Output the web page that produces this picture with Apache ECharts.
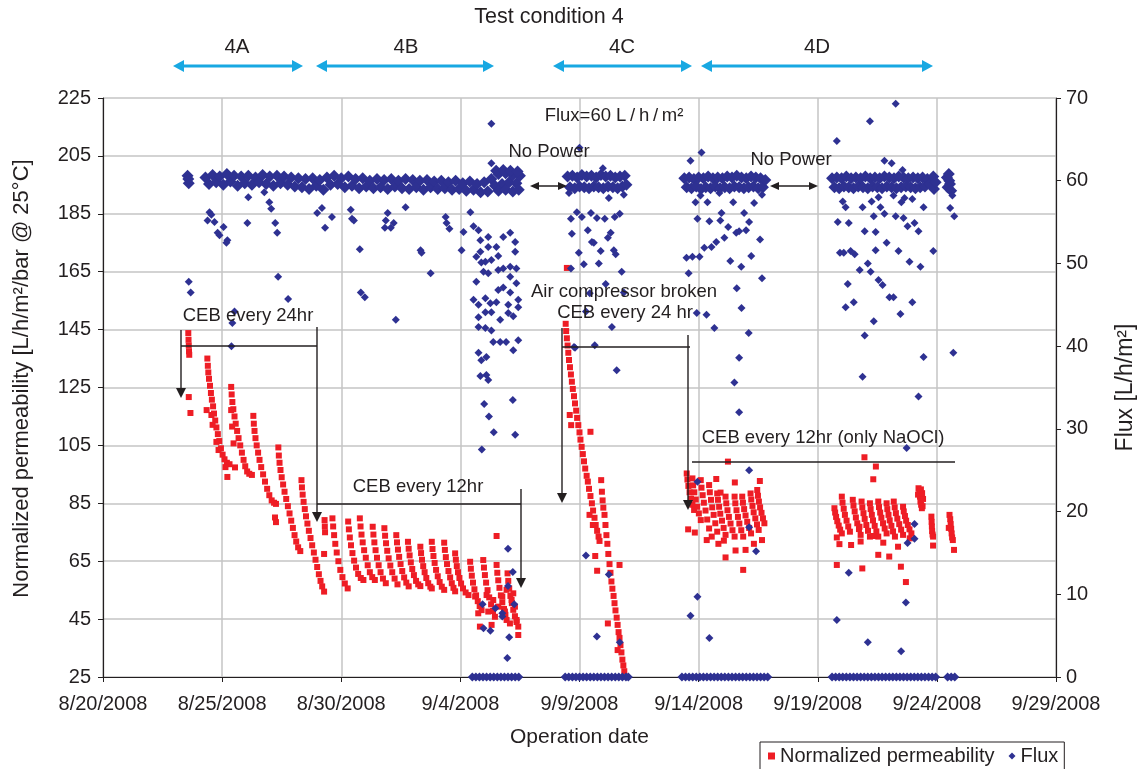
<!DOCTYPE html>
<html><head><meta charset="utf-8">
<script src="https://cdn.jsdelivr.net/npm/echarts@6/dist/echarts.min.js"></script>
<style>html,body{margin:0;padding:0;background:#fff}#c{width:1145px;height:769px}</style>
</head><body><div id="c"></div>
<script>
// x values = days since 8/20/2008
const tickDates = ['8/20/2008','8/25/2008','8/30/2008','9/4/2008','9/9/2008','9/14/2008','9/19/2008','9/24/2008','9/29/2008'];
const PERM_MIN = 25, PERM_MAX = 225, PERM_STEP = 20;
const FLUX_MIN = 0, FLUX_MAX = 70, FLUX_STEP = 10;

// Normalized permeability [day, L/h/m2/bar]
const perm4A = [
[3.58,143.8],[3.59,141.5],[3.60,139.5],[3.61,137.5],[3.62,136.3],[3.60,121.7],[3.67,116.2],
[4.38,135.0],[4.40,132.5],[4.42,130.2],[4.45,128.0],[4.49,125.6],[4.53,123.1],[4.57,120.8],[4.62,118.5],[4.66,116.0],[4.71,113.6],[4.76,111.2],[4.82,108.9],[4.88,106.5],[4.95,104.0],[5.02,101.8],[5.10,100.2],[5.20,99.0],[5.31,98.5],
[4.35,117.2],[4.55,115.5],[4.60,112.1],[4.76,106.2],[4.85,103.4],[5.14,97.5],[5.22,94.1],
[5.38,125.2],[5.40,122.6],[5.43,120.0],[5.47,117.5],[5.52,115.0],[5.57,112.5],[5.63,110.0],[5.69,107.5],[5.76,105.0],[5.83,102.5],[5.90,100.0],[5.97,97.8],[6.05,96.0],[6.14,95.2],[6.25,94.8],
[5.38,117.2],[5.42,111.5],[5.48,105.7],[5.54,97.4],
[6.31,115.2],[6.33,112.5],[6.36,110.0],[6.40,107.5],[6.45,105.0],[6.51,102.5],[6.57,100.0],[6.64,97.5],[6.72,95.0],[6.80,92.5],[6.89,90.0],[6.98,87.8],[7.08,86.0],[7.18,85.2],[7.26,84.8],
[7.22,80.1],[7.26,78.5],
[7.36,104.3],[7.38,101.5],[7.41,99.0],[7.45,96.5],[7.50,94.0],[7.56,91.5],[7.62,89.0],[7.69,86.5],[7.76,84.0],[7.83,81.5],[7.90,79.0],[7.97,76.5],[8.04,74.0],[8.11,71.8],[8.19,69.8],[8.28,68.5],
[8.33,93.0],[8.35,90.5],[8.38,88.0],[8.42,85.5],[8.47,83.0],[8.52,80.5],[8.58,78.0],[8.64,75.5],[8.71,73.0],[8.78,70.5],[8.85,68.0],[8.92,65.5],[8.99,63.0],[9.06,60.5],[9.13,58.2],[9.20,56.3],[9.28,54.5]
];
const perm4B = [
[9.30,79.2],[9.31,77.0],[9.32,75.0],[9.28,67.5],
[9.63,79.8],[9.66,77.0],[9.70,74.0],[9.75,71.0],[9.81,68.0],[9.88,65.0],[9.96,62.0],[10.05,59.5],[10.15,57.3],[10.27,55.6],
[10.29,78.7],[10.32,76.0],[10.36,73.2],[10.41,70.5],[10.47,67.8],[10.54,65.2],[10.62,62.8],[10.71,60.6],[10.82,59.2],[10.93,58.5],
[10.78,79.8],[10.81,77.0],[10.85,74.2],[10.90,71.5],[10.96,68.8],[11.03,66.2],[11.11,63.6],[11.20,61.2],[11.30,59.5],[11.41,58.5],
[11.32,76.9],[11.35,74.2],[11.39,71.5],[11.44,68.8],[11.50,66.2],[11.57,63.6],[11.65,61.2],[11.75,59.0],[11.87,57.4],
[11.81,76.4],[11.84,73.8],[11.88,71.2],[11.93,68.6],[11.99,66.0],[12.06,63.5],[12.14,61.2],[12.24,59.0],[12.36,57.0],
[12.31,74.0],[12.34,71.5],[12.38,69.0],[12.43,66.5],[12.49,64.0],[12.56,61.6],[12.64,59.4],[12.73,57.6],[12.83,56.3],
[12.80,71.7],[12.83,69.3],[12.87,67.0],[12.92,64.6],[12.98,62.3],[13.05,60.2],[13.14,58.2],[13.23,57.0],[13.32,56.4],
[13.32,70.0],[13.35,67.8],[13.39,65.5],[13.44,63.3],[13.50,61.2],[13.57,59.2],[13.65,57.4],[13.74,56.2],[13.80,55.6],
[13.80,71.7],[13.83,69.2],[13.87,66.8],[13.92,64.4],[13.98,62.0],[14.05,59.8],[14.13,57.8],[14.22,56.2],[14.32,55.1],
[14.32,71.4],[14.35,68.9],[14.39,66.4],[14.44,64.0],[14.50,61.6],[14.57,59.4],[14.64,57.4],[14.71,55.8],[14.78,54.6],
[14.78,67.7],[14.81,65.5],[14.85,63.3],[14.90,61.2],[14.96,59.2],[15.03,57.3],[15.11,55.6],[15.22,54.2],[15.34,53.3],
[15.41,64.8],[15.44,62.4],[15.48,60.0],[15.53,57.6],[15.59,55.3],[15.66,53.2],[15.73,51.2],[15.81,49.5],[15.89,48.1],
[15.96,65.4],[15.99,62.8],[16.03,60.2],[16.08,57.6],[16.14,55.0],[16.21,52.5],[16.29,50.1],[16.37,47.8],[16.45,45.8],
[16.52,63.7],[16.55,61.0],[16.59,58.4],[16.64,55.8],[16.70,53.2],[16.76,50.8],[16.83,48.5],[16.89,46.5],[16.94,44.7],
[16.98,60.8],[17.01,58.2],[17.05,55.6],[17.10,53.0],[17.16,50.5],[17.22,48.2],[17.29,46.0],[17.36,44.0],[17.43,42.4],
[16.52,73.7],[15.82,42.4],[16.31,43.0],[17.43,39.5],[15.75,47.0],[16.17,47.6],[16.59,49.3],[16.87,47.6],[17.15,51.6],[17.29,49.3],[17.36,44.7],[17.08,43.5],[16.10,53.3],[16.38,51.6],[16.76,52.8],[16.94,55.1],[17.22,53.9],[15.62,52.8]
];
const perm4C = [
[19.47,166.3],
[19.42,147.0],[19.44,144.5],[19.47,142.0],[19.50,139.5],[19.53,137.0],[19.56,134.5],[19.60,132.0],[19.64,129.5],[19.68,127.0],[19.72,124.5],[19.77,122.0],[19.81,119.5],[19.86,117.0],[19.90,114.5],[19.95,112.0],[20.00,109.5],[20.04,107.0],[20.09,104.5],[20.14,102.0],[20.19,99.5],[20.24,97.0],[20.30,94.5],[20.35,92.5],[20.40,90.0],[20.46,87.5],[20.52,85.0],[20.57,82.5],[20.63,80.0],[20.68,77.5],[20.74,75.5],[20.80,73.5],[20.84,72.0],
[20.91,93.0],[20.94,89.0],[20.97,86.0],[21.00,83.5],[21.05,81.0],[21.09,77.5],[21.13,74.0],[21.17,71.0],[21.21,67.5],[21.26,64.0],[21.30,61.0],[21.34,58.0],[21.38,55.5],[21.43,53.0],[21.47,50.5],[21.51,48.0],[21.56,45.5],[21.60,43.0],[21.64,40.5],[21.68,38.5],[21.72,36.0],[21.76,33.5],[21.80,31.0],[21.84,29.0],[21.88,27.0],
[20.46,109.7],[19.59,115.5],[19.65,112.0],[20.42,81.0],[20.56,77.5],[20.66,66.8],[20.74,61.7],[21.19,43.5],[21.68,63.7],[21.60,34.3]
];
const perm4D = [
[24.50,95.3],[24.53,93.2],[24.57,91.0],[24.62,88.8],[24.68,86.6],[24.74,84.5],[24.81,82.7],
[24.74,93.6],[24.77,91.2],[24.82,88.8],[24.88,86.3],[24.94,83.8],[25.01,81.5],[25.09,79.2],
[25.09,93.0],[25.12,90.4],[25.17,87.8],[25.22,85.2],[25.29,82.5],[25.36,79.4],[25.44,76.3],
[25.44,91.3],[25.47,88.8],[25.52,86.2],[25.57,83.6],[25.63,81.0],[25.70,78.1],[25.78,75.2],
[25.78,88.4],[25.81,86.2],[25.86,83.8],[25.91,81.4],[25.98,79.0],[26.05,76.5],[26.13,74.1],
[26.13,87.3],[26.16,85.0],[26.21,82.6],[26.27,80.3],[26.34,78.0],[26.42,75.7],[26.51,73.5],
[26.51,87.3],[26.54,85.0],[26.59,82.6],[26.65,80.3],[26.71,78.0],[26.79,75.7],[26.87,73.5],
[26.83,87.3],[26.86,85.2],[26.91,83.0],[26.97,80.8],[27.04,78.6],[27.12,76.5],[27.20,74.6],
[27.18,88.4],[27.21,86.3],[27.26,84.1],[27.31,81.9],[27.38,79.8],[27.45,77.7],[27.52,75.8],
[27.46,89.6],[27.49,87.6],[27.53,85.6],[27.58,83.6],[27.64,81.7],[27.70,79.8],[27.76,78.1],
[24.56,76.0],[24.84,74.9],[25.34,72.3],[25.55,73.5],[25.83,71.0],[26.06,72.1],[26.13,66.3],[26.55,68.7],[26.97,68.9],[27.32,71.0],[27.66,72.3],[26.87,62.0],[26.23,99.4],[25.74,93.4],[26.52,92.2],[27.57,92.7],[25.92,88.7],
[30.70,83.3],[30.73,81.8],[30.77,80.3],[30.82,78.8],[30.88,77.3],[30.94,75.9],[31.01,74.6],
[31.01,87.3],[31.04,85.2],[31.09,83.1],[31.14,81.0],[31.21,79.0],[31.28,77.0],[31.35,75.2],
[31.47,86.2],[31.50,84.2],[31.55,82.2],[31.60,80.1],[31.66,78.1],[31.73,76.1],[31.80,74.1],
[31.84,85.6],[31.87,83.6],[31.92,81.6],[31.97,79.6],[32.04,77.5],[32.11,75.5],[32.19,73.5],
[32.19,85.0],[32.22,83.0],[32.27,81.0],[32.32,79.1],[32.39,77.2],[32.46,75.3],[32.54,73.5],
[32.54,85.6],[32.57,83.7],[32.62,81.8],[32.67,80.0],[32.74,78.1],[32.81,76.3],[32.89,74.6],
[32.89,85.0],[32.92,83.0],[32.97,81.0],[33.02,79.1],[33.09,77.2],[33.16,75.3],[33.24,73.5],
[33.19,85.6],[33.23,83.6],[33.28,81.6],[33.34,79.7],[33.42,77.8],[33.50,75.9],[33.58,74.1],
[33.58,83.8],[33.61,82.2],[33.66,80.6],[33.71,79.0],[33.78,77.5],[33.85,76.0],[33.93,74.6],
[34.21,88.0],[34.23,90.2],[34.26,89.0],[34.29,87.3],[34.31,85.6],[34.34,84.5],[34.37,83.3],[34.40,84.0],[34.42,86.5],[34.38,88.5],[34.33,89.8],
[34.77,80.4],[34.78,78.6],[34.79,77.0],[34.80,75.4],[34.82,74.2],[34.84,73.5],
[35.53,81.0],[35.56,79.5],[35.58,77.8],[35.60,76.2],[35.62,74.6],[35.64,73.2],[35.67,72.3],[35.50,76.5],
[31.96,100.9],[32.44,97.7],[32.33,93.3],[30.80,73.2],[30.91,70.9],[31.40,70.6],[31.75,76.9],[31.80,71.8],[32.33,73.7],[32.54,67.2],[33.00,66.6],[32.75,71.4],[33.37,70.0],[33.86,72.9],[34.84,70.4],[35.72,68.9],[30.80,63.7],[31.87,62.5],[33.49,63.1],[33.70,57.8]
];

// Flux [day, L/h/m2] - dense operating band near 60
const fluxBand = [
[3.55,60.6],[3.60,59.7],[3.58,60.2],
[4.30,60.4],[4.45,59.6],[4.60,60.7],[4.75,59.8],[4.90,60.5],[5.05,59.5],[5.20,60.8],[5.35,59.9],[5.50,60.6],[5.65,59.4],[5.80,60.5],[5.95,59.7],[6.10,60.6],[6.25,59.5],[6.40,60.4],[6.55,59.8],[6.70,60.7],[6.85,59.6],[7.00,60.5],[7.15,59.4],[7.30,60.6],[7.45,59.7],[7.60,60.5],[7.75,59.5],[7.90,60.4],[8.05,59.3],[8.20,60.3],[8.35,59.2],[8.50,60.2],[8.65,59.0],[8.80,60.3],[8.95,59.4],[9.10,60.1],[9.25,58.9],[9.40,60.4],[9.55,59.5],[9.70,60.6],[9.85,59.6],[10.00,60.3],[10.15,59.2],[10.30,60.5],[10.45,59.4],[10.60,60.2],[10.75,59.1],[10.90,60.3],[11.05,59.3],[11.20,60.0],[11.35,59.1],[11.50,60.2],[11.65,59.2],[11.80,60.1],[11.95,59.0],[12.10,60.2],[12.25,59.3],[12.40,60.0],[12.55,59.1],[12.70,60.2],[12.85,59.0],[13.00,60.1],[13.15,59.2],[13.30,60.0],[13.45,58.9],[13.60,60.1],[13.75,59.2],[13.90,59.9],[14.05,59.0],[14.20,60.0],[14.35,59.1],[14.50,59.8],[14.65,58.9],[14.80,60.0],[14.95,59.0],[15.10,59.7],[15.25,58.8],[15.40,59.9],[15.55,58.9],[15.70,59.6],[15.85,58.6],[16.00,59.8],[16.15,58.7],[16.30,60.2],[16.45,59.4],[16.60,60.8],[16.75,59.6],[16.90,60.9],[17.05,59.8],[17.20,60.7],[17.35,59.7],[17.50,60.6],
[16.50,61.2],[16.80,61.3],[17.10,61.2],[17.40,61.1],[16.60,58.8],[16.90,58.9],[17.20,58.7],[17.45,58.9],
[19.50,60.5],[19.60,59.2],[19.70,60.6],[19.80,59.1],[19.90,60.4],[20.00,59.3],[20.10,60.7],[20.20,59.2],[20.30,60.5],[20.40,59.1],[20.50,60.6],[20.60,59.3],[20.70,60.4],[20.80,59.2],[20.90,60.7],[21.00,59.1],[21.10,60.5],[21.20,59.3],[21.30,60.6],[21.40,59.2],[21.50,60.4],[21.60,59.1],[21.70,60.5],[21.80,59.3],[21.90,60.6],[21.97,59.5],
[24.40,60.3],[24.50,59.2],[24.60,60.4],[24.70,59.1],[24.80,60.2],[24.90,59.3],[25.00,60.4],[25.10,59.0],[25.20,60.3],[25.30,59.2],[25.40,60.5],[25.50,59.1],[25.60,60.3],[25.70,59.3],[25.80,60.4],[25.90,59.1],[26.00,60.3],[26.10,59.2],[26.20,60.5],[26.30,59.1],[26.40,60.4],[26.50,59.3],[26.60,60.6],[26.70,59.2],[26.80,60.4],[26.90,59.1],[27.00,60.3],[27.10,59.2],[27.20,60.5],[27.30,59.3],[27.40,60.4],[27.50,59.1],[27.60,60.3],[27.70,59.2],[27.80,60.1],
[30.60,60.3],[30.70,59.2],[30.80,60.4],[30.90,59.1],[31.00,60.3],[31.10,59.3],[31.20,60.5],[31.30,59.2],[31.40,60.3],[31.50,59.1],[31.60,60.4],[31.70,59.3],[31.80,60.3],[31.90,59.2],[32.00,60.5],[32.10,59.1],[32.20,60.3],[32.30,59.3],[32.40,60.4],[32.50,59.2],[32.60,60.3],[32.70,59.1],[32.80,60.5],[32.90,59.3],[33.00,60.4],[33.10,59.2],[33.20,60.3],[33.30,59.1],[33.40,60.5],[33.50,59.2],[33.60,60.4],[33.70,59.3],[33.80,60.3],[33.90,59.2],[34.00,60.4],[34.10,59.1],[34.20,60.3],[34.30,59.2],[34.40,60.4],[34.50,59.3],[34.60,60.2],[34.70,59.6],[34.85,60.5],[34.88,59.0],[34.95,59.8],
[35.42,60.4],[35.45,59.2],[35.50,60.8],[35.55,59.6],[35.60,58.8],[35.52,60.0]
];
// Flux excursions below/above the band
const fluxScatter = [
[4.47,56.2],[4.55,55.9],[4.39,55.2],[4.68,55.0],[4.81,53.7],[4.89,53.4],[5.06,54.4],[5.22,52.8],[5.18,52.5],
[6.10,58.0],[6.06,54.9],[6.77,58.6],[6.98,57.4],[7.06,56.6],[7.23,54.9],[7.31,53.7],
[8.99,56.1],[9.19,56.7],[9.32,54.3],[9.61,55.6],
[3.60,47.8],[3.68,46.5],[7.35,48.4],[7.77,45.7],[5.52,44.2],[5.43,42.8],[5.39,40.0],
[10.40,56.5],[10.45,55.4],[10.53,55.2],[10.78,51.7],[10.82,46.5],[10.99,45.9],
[11.95,56.1],[11.87,55.2],[12.20,54.9],[11.83,54.3],[12.08,54.3],[12.29,43.2],[12.70,56.8],[13.33,51.6],[13.37,51.3],[13.75,48.8],
[14.38,55.6],[14.42,54.9],[14.54,54.2],[15.05,51.6],[15.13,53.8],[15.42,56.2],
[16.30,66.9],[16.30,62.1],[15.55,54.5],[15.76,54.0],[16.17,53.2],[15.84,52.8],[16.17,52.0],[16.51,52.0],[16.80,53.2],[17.09,53.7],[17.30,52.6],[17.30,51.4],[15.84,51.4],[15.67,50.8],[16.05,50.2],[16.30,50.4],[16.59,50.9],[15.88,50.1],[16.17,48.8],[15.97,49.0],[16.59,49.2],[16.80,49.4],[17.09,49.6],[17.35,49.4],[17.09,48.4],[15.67,47.8],[15.55,45.6],[15.76,45.0],[16.05,45.8],[16.26,45.2],[16.51,45.3],[16.59,46.8],[16.80,47.1],[17.09,46.5],[17.35,47.6],[17.43,45.6],[17.01,45.0],[16.05,44.1],[16.30,44.1],[16.67,43.2],[17.01,44.0],[17.22,43.6],[17.43,44.7],[15.76,43.5],[15.76,42.3],[16.05,42.2],[16.30,41.9],[16.38,40.5],[16.67,40.5],[16.92,40.5],[17.43,40.7],[17.22,39.5],[15.76,39.2],[15.88,38.3],[16.09,38.7],[15.84,36.4],[16.09,36.5],[16.17,35.9],
[16.00,33.0],[16.20,31.5],[16.40,29.6],[17.30,29.3],[17.20,33.5],[15.90,27.5],
[17.00,11.0],[15.93,8.8],[16.47,8.3],[16.76,7.7],[16.76,7.3],[17.26,8.8],[15.97,5.9],[16.26,5.6],[17.05,4.8],[16.97,2.3],[17.20,12.7],[17.00,15.5],
[20.00,64.0],[20.98,61.5],[21.23,57.9],[21.86,58.3],[19.56,58.5],[19.89,56.2],[19.64,55.4],[20.10,55.6],[20.48,56.1],[20.73,55.5],[21.06,55.4],[21.48,55.6],[21.69,56.0],[19.68,53.6],[20.35,54.0],[20.52,52.6],[20.60,52.5],[21.19,53.1],[21.31,53.7],[19.97,51.3],[20.89,51.5],[21.44,51.6],[21.52,51.1],[20.18,49.9],[20.81,50.0],[19.64,49.4],[21.77,49.0],[21.10,47.5],[20.43,46.4],[21.86,46.5],[21.36,42.3],[20.64,40.1],[19.77,39.9],[20.27,44.2],[19.81,39.8],[21.56,37.1],[20.27,14.7],[21.23,12.4],[20.73,4.9],[21.69,4.2],
[24.66,62.4],[25.12,63.4],[25.08,58.2],[24.87,57.4],[25.37,57.4],[25.87,58.5],[26.45,57.4],[27.33,57.3],[27.66,58.3],[25.96,56.1],[24.95,55.4],[25.45,55.1],[25.91,55.2],[26.91,56.1],[27.12,55.0],[26.24,54.4],[26.99,54.0],[26.58,53.7],[26.70,53.9],[27.58,52.9],[26.08,53.1],[25.74,52.6],[25.54,52.0],[25.24,51.9],[24.49,50.7],[24.74,50.8],[25.04,50.8],[27.21,50.9],[26.33,50.3],[26.79,49.6],[24.58,48.8],[27.66,48.2],
[24.92,44.0],[25.33,43.8],[25.66,42.2],[24.95,9.7],[24.66,7.4],[25.45,4.7],
[26.70,32.0],[27.12,25.0],[24.95,23.6],[27.12,18.1],[27.41,15.2],
[26.60,47.0],[26.80,44.6],[27.10,41.6],[26.70,38.6],[26.50,35.6],
[33.27,69.3],[32.19,67.2],[30.80,64.8],[32.80,62.4],[33.10,62.1],[33.56,61.3],[31.05,57.5],[31.17,56.8],[31.88,56.8],[32.26,57.5],[32.55,58.0],[32.63,56.8],[33.18,58.2],[33.51,57.4],[33.64,57.9],[33.97,57.8],[34.44,56.8],[32.35,55.7],[32.80,56.0],[33.27,55.7],[33.60,55.5],[33.77,54.5],[34.06,54.9],[34.23,53.9],[30.84,55.0],[31.30,54.9],[31.97,53.9],[32.43,53.8],[32.89,52.5],[32.43,51.6],[33.39,51.5],[34.85,51.5],[30.93,51.3],[31.09,51.3],[31.38,51.5],[31.55,51.1],[33.85,50.2],[34.31,49.6],[32.10,50.0],[31.76,49.2],[32.22,49.0],[32.55,48.0],[32.72,47.4],[31.26,47.5],[33.01,45.9],[33.18,45.9],[31.51,45.3],[31.17,44.7],[33.97,45.3],[33.47,43.9],[32.35,43.0],[31.97,41.3],[34.44,38.7],[35.69,39.2],[31.88,36.3],[34.23,33.9],[35.56,56.7],[35.73,55.7],[35.65,58.2],
[31.30,12.6],[33.73,27.7],[34.06,18.5],[33.77,16.2],[34.06,16.7],
[30.80,6.9],[32.10,4.2],[33.50,3.1],[33.70,9.0]
];
// Days where flux was zero (no power / shutdown)
const fluxZeroDays = [
15.50,15.65,15.80,15.95,16.10,16.25,16.40,16.55,16.70,16.85,17.00,17.15,17.30,17.45,
19.40,19.55,19.70,19.85,20.00,20.15,20.30,20.45,20.60,20.75,20.90,21.05,21.20,21.35,21.50,21.65,21.80,21.95,22.05,
24.30,24.45,24.60,24.75,24.90,25.05,25.20,25.35,25.50,25.65,25.80,25.95,26.10,26.25,26.40,26.55,26.70,26.85,27.00,27.15,27.30,27.45,27.60,27.75,27.90,
30.60,30.75,30.90,31.05,31.20,31.35,31.50,31.65,31.80,31.95,32.10,32.25,32.40,32.55,32.70,32.85,33.00,33.15,33.30,33.45,33.60,33.75,33.90,34.05,34.20,34.35,34.50,34.65,34.80,34.95,
35.45,35.60,35.75
];

const RED = '#EE1D25', BLUE = '#2E3192', FONT = '"Liberation Sans", Arial, sans-serif', TXT = '#231F20';
const permAll = perm4A.concat(perm4B, perm4C, perm4D);

// ---------- annotation graphics (pixel layout) ----------
const g = [];
function txt(x, y, s, size) {
  g.push({type:'text', x:x, y:y, z:100, style:{text:s, fill:TXT, font: size + 'px ' + FONT, align:'center', verticalAlign:'middle', textAlign:'center', textVerticalAlign:'middle'}});
}
function ln(x1, y1, x2, y2, color, w) {
  g.push({type:'line', z:100, shape:{x1:x1, y1:y1, x2:x2, y2:y2}, style:{stroke:color, lineWidth:w}});
}
function head(x, y, dir, len, hw, color) {
  let pts;
  if (dir === 'down') pts = [[x, y], [x - hw, y - len], [x + hw, y - len]];
  else if (dir === 'left') pts = [[x, y], [x + len, y - hw], [x + len, y + hw]];
  else pts = [[x, y], [x - len, y - hw], [x - len, y + hw]];
  g.push({type:'polygon', z:100, shape:{points:pts}, style:{fill:color}});
}
function dbl(x1, x2, y, color, w, len, hw) {
  ln(x1 + len - 1, y, x2 - len + 1, y, color, w);
  head(x1, y, 'left', len, hw, color);
  head(x2, y, 'right', len, hw, color);
}
function down(x, y1, y2, color) { ln(x, y1, x, y2 - 8, color, 1.4); head(x, y2, 'down', 10, 5, color); }

const CYAN = '#18A8E2', BLK = '#231F20';
txt(549, 17, 'Test condition 4', 21.5);
txt(237, 47, '4A', 20.5); txt(406, 47, '4B', 20.5); txt(622, 47, '4C', 20.5); txt(817, 47, '4D', 20.5);
dbl(173, 303, 66, CYAN, 3, 11, 6);
dbl(316, 494, 66, CYAN, 3, 11, 6);
dbl(553, 692, 66, CYAN, 3, 11, 6);
dbl(701, 933, 66, CYAN, 3, 11, 6);
txt(614, 116, 'Flux=60 L\u2009/\u2009h\u2009/\u2009m²', 18.5);
txt(549, 152, 'No Power', 18.5);
txt(791, 160, 'No Power', 18.5);
dbl(530, 567, 186, BLK, 1.5, 9, 4);
dbl(770, 818, 186, BLK, 1.5, 9, 4);
txt(248, 316, 'CEB every 24hr', 18.5);
ln(181, 346, 317, 346, BLK, 1.4);
down(181, 330, 398, BLK);
down(317, 327, 522, BLK);
txt(418, 487, 'CEB every 12hr', 18.5);
ln(317, 504, 521, 504, BLK, 1.4);
down(521, 489, 588, BLK);
txt(624, 292, 'Air compressor broken', 18.5);
txt(625, 313, 'CEB every 24 hr', 18.5);
ln(562, 347, 690, 347, BLK, 1.4);
down(562, 328, 503, BLK);
down(688, 335, 510, BLK);
txt(823, 438, 'CEB every 12hr (only NaOCl)', 18.5);
ln(692, 462, 955, 462, BLK, 1.4);

const gridLine = {show:true, lineStyle:{color:'#C4C4C4', width:1.5}};
const axisLbl = {color:TXT, fontFamily:FONT, fontSize:20};

const option = {
  animation:false,
  backgroundColor:'#fff',
  grid:{left:103, right:85, top:98, bottom:92, containLabel:false},
  legend:{
    left:760, top:742, orient:'horizontal',
    data:[{name:'Normalized permeability', icon:'rect'}, {name:'Flux', icon:'diamond'}],
    itemWidth:7, itemHeight:7, itemGap:14,
    borderColor:'#231F20', borderWidth:1, borderRadius:0, padding:[4,6,8,8],
    textStyle:{color:TXT, fontFamily:FONT, fontSize:20}
  },
  xAxis:{
    type:'value', min:0, max:40, interval:5,
    name:'Operation date', nameLocation:'middle', nameGap:50,
    nameTextStyle:{color:TXT, fontFamily:FONT, fontSize:21},
    axisLine:{show:true, onZero:false, lineStyle:{color:'#231F20', width:1.2}},
    axisTick:{show:true, length:5, lineStyle:{color:'#231F20'}},
    axisLabel:Object.assign({margin:17, formatter:(v)=>tickDates[Math.round(v/5)] || ''}, axisLbl),
    splitLine:gridLine
  },
  yAxis:[
    {
      type:'value', position:'left', min:0, max:PERM_MAX - PERM_MIN, interval:PERM_STEP,
      name:'Normalized permeability [L/h/m²/bar @ 25°C]', nameLocation:'middle', nameGap:70, nameRotate:90,
      nameTextStyle:{color:TXT, fontFamily:FONT, fontSize:22, padding:[0,0,0,18]},
      axisLine:{show:true, lineStyle:{color:'#231F20', width:1.2}},
      axisTick:{show:true, length:5, lineStyle:{color:'#231F20'}},
      axisLabel:Object.assign({margin:12, formatter:(v)=>String(v + PERM_MIN)}, axisLbl),
      splitLine:gridLine
    },
    {
      type:'value', position:'right', min:FLUX_MIN, max:FLUX_MAX, interval:FLUX_STEP,
      name:'Flux [L/h/m²]', nameLocation:'middle', nameGap:58, nameRotate:90,
      nameTextStyle:{color:TXT, fontFamily:FONT, fontSize:23},
      axisLine:{show:true, lineStyle:{color:'#231F20', width:1.2}},
      axisTick:{show:true, length:5, lineStyle:{color:'#231F20'}},
      axisLabel:Object.assign({margin:10}, axisLbl),
      splitLine:{show:false}
    }
  ],
  series:[
    {name:'Normalized permeability', type:'scatter', yAxisIndex:0, symbol:'rect', symbolSize:6,
     itemStyle:{color:RED, opacity:1}, z:2, data: permAll.map(p => [p[0], p[1] - PERM_MIN])},
    {name:'Flux', type:'scatter', yAxisIndex:1, symbol:'diamond', symbolSize:12,
     itemStyle:{color:BLUE, opacity:1}, z:3, data: fluxBand},
    {name:'Flux', type:'scatter', yAxisIndex:1, symbol:'diamond', symbolSize:8,
     itemStyle:{color:BLUE, opacity:1}, z:3, data: fluxScatter},
    {name:'Flux', type:'scatter', yAxisIndex:1, symbol:'diamond', symbolSize:9, clip:false,
     itemStyle:{color:BLUE, opacity:1}, z:3, data: fluxZeroDays.map(d => [d, 0])}
  ],
  graphic:g
};
const chart = echarts.init(document.getElementById('c'), null, {renderer:'canvas'});
chart.setOption(option);
</script></body></html>
